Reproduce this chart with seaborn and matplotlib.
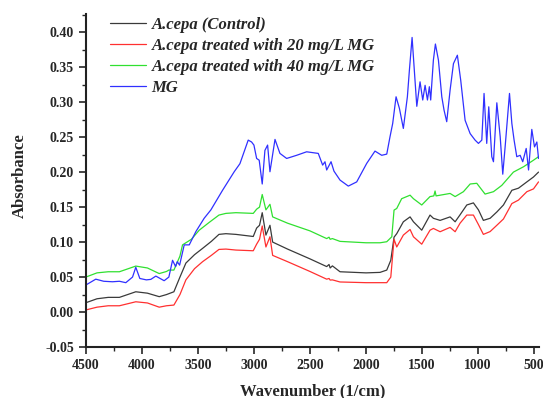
import pandas as pd
import matplotlib.pyplot as plt
import seaborn as sns
from matplotlib.ticker import MultipleLocator

# wavenumber grid shared by the two lower A.cepa spectra
wn_cepa = [4500, 4400, 4300, 4200, 4054, 3950, 3845, 3780, 3714, 3660, 3607, 3530,
           3458, 3380, 3312, 3250, 3161, 3006, 2976, 2950, 2926, 2893, 2857, 2833,
           2700, 2500, 2351, 2330, 2320, 2300, 2232, 2000, 1875, 1815, 1779, 1750,
           1726, 1667, 1607, 1577, 1503, 1429, 1399, 1339, 1250, 1205, 1161, 1101,
           1042, 997, 953, 893, 833, 774, 699, 640, 565, 506, 461]

abs_control = [0.0133, 0.019, 0.021, 0.021, 0.029, 0.027, 0.022, 0.025, 0.029, 0.050,
               0.070, 0.082, 0.091, 0.101, 0.111, 0.112, 0.111, 0.108, 0.120, 0.124,
               0.142, 0.110, 0.124, 0.100, 0.090, 0.076, 0.065, 0.068, 0.063, 0.066,
               0.0576, 0.056, 0.0567, 0.060, 0.074, 0.107, 0.112, 0.129, 0.136, 0.129,
               0.117, 0.1386, 0.134, 0.131, 0.136, 0.129, 0.139, 0.153, 0.156, 0.146,
               0.131, 0.134, 0.143, 0.153, 0.174, 0.177, 0.186, 0.193, 0.200]

abs_20 = [0.003, 0.007, 0.009, 0.009, 0.0147, 0.013, 0.007, 0.009, 0.010, 0.025,
          0.046, 0.062, 0.072, 0.081, 0.0895, 0.090, 0.0886, 0.0876, 0.097, 0.104,
          0.123, 0.093, 0.1076, 0.081, 0.072, 0.058, 0.047, 0.048, 0.0457, 0.046,
          0.043, 0.042, 0.042, 0.042, 0.050, 0.104, 0.093, 0.110, 0.118, 0.1076,
          0.097, 0.117, 0.1195, 0.1148, 0.121, 0.1148, 0.127, 0.1386, 0.1386, 0.125,
          0.111, 0.115, 0.124, 0.133, 0.155, 0.160, 0.172, 0.176, 0.186]

wn_40 = [4500, 4400, 4300, 4200, 4054, 3950, 3845, 3780, 3759, 3714, 3660, 3637,
         3558, 3488, 3400, 3312, 3250, 3161, 3006, 2976, 2950, 2926, 2893, 2857,
         2833, 2700, 2500, 2351, 2330, 2320, 2300, 2232, 2000, 1875, 1815, 1770,
         1750, 1726, 1682, 1607, 1577, 1503, 1429, 1395, 1384, 1375, 1339, 1250,
         1205, 1131, 1071, 1012, 938, 863, 789, 685, 595, 506, 461]
abs_40 = [0.050, 0.056, 0.0576, 0.0576, 0.0657, 0.063, 0.055, 0.058, 0.060, 0.060,
          0.080, 0.096, 0.104, 0.117, 0.128, 0.1386, 0.141, 0.142, 0.141, 0.147,
          0.150, 0.168, 0.146, 0.154, 0.136, 0.127, 0.116, 0.105, 0.107, 0.104,
          0.105, 0.101, 0.099, 0.099, 0.1005, 0.1076, 0.1457, 0.148, 0.162, 0.167,
          0.162, 0.153, 0.165, 0.166, 0.173, 0.166, 0.167, 0.1695, 0.165, 0.172,
          0.183, 0.184, 0.1686, 0.172, 0.181, 0.200, 0.2076, 0.217, 0.222]

wn_mg = [4500, 4411, 4340, 4262, 4200, 4143, 4083, 4054, 4018, 3960, 3920, 3875,
         3801, 3759, 3726, 3699, 3684, 3663, 3622, 3577, 3518, 3444, 3384, 3280,
         3176, 3125, 3051, 3021, 3000, 2976, 2953, 2926, 2902, 2878, 2857, 2812,
         2768, 2708, 2619, 2530, 2426, 2387, 2366, 2351, 2312, 2286, 2232, 2158,
         2083, 1994, 1920, 1860, 1815, 1786, 1762, 1732, 1702, 1667, 1631, 1613,
         1589, 1571, 1547, 1518, 1494, 1473, 1452, 1435, 1423, 1399, 1381, 1354,
         1324, 1304, 1280, 1250, 1220, 1185, 1155, 1116, 1071, 1027, 997, 967,
         947, 923, 905, 878, 863, 833, 803, 780, 759, 720, 699, 679, 655, 625,
         602, 571, 550, 521, 497, 476, 461]
abs_mg = [0.0386, 0.047, 0.044, 0.0433, 0.044, 0.042, 0.050, 0.064, 0.048, 0.046,
          0.0467, 0.0514, 0.0448, 0.050, 0.074, 0.065, 0.072, 0.067, 0.096, 0.096,
          0.115, 0.134, 0.146, 0.174, 0.2005, 0.212, 0.2457, 0.243, 0.2386, 0.2195,
          0.217, 0.183, 0.231, 0.2386, 0.2005, 0.2467, 0.2267, 0.2195, 0.224, 0.229,
          0.2267, 0.210, 0.2148, 0.203, 0.2148, 0.2014, 0.1886, 0.180, 0.186, 0.2124,
          0.230, 0.224, 0.2257, 0.2505, 0.2695, 0.3076, 0.291, 0.2624, 0.3076, 0.3457,
          0.3924, 0.350, 0.294, 0.329, 0.303, 0.324, 0.303, 0.322, 0.303, 0.360,
          0.383, 0.360, 0.3076, 0.2886, 0.272, 0.317, 0.355, 0.367, 0.331, 0.274,
          0.255, 0.2457, 0.241, 0.2457, 0.3124, 0.241, 0.2933, 0.222, 0.2148, 0.299,
          0.2505, 0.197, 0.236, 0.3124, 0.2695, 0.2457, 0.222, 0.224, 0.2148, 0.2338,
          0.203, 0.261, 0.236, 0.243, 0.2195]

labels = ['A.cepa (Control)', 'A.cepa treated with 20 mg/L MG',
          'A.cepa treated with 40 mg/L MG', 'MG']
colors = ['#3a3a3a', '#ff3030', '#30e030', '#3030ff']

df = pd.concat([
    pd.DataFrame({'wn': wn_cepa, 'abs': abs_control, 'sample': labels[0]}),
    pd.DataFrame({'wn': wn_cepa, 'abs': abs_20, 'sample': labels[1]}),
    pd.DataFrame({'wn': wn_40, 'abs': abs_40, 'sample': labels[2]}),
    pd.DataFrame({'wn': wn_mg, 'abs': abs_mg, 'sample': labels[3]}),
])

sns.set_style('ticks')
plt.rcParams['font.family'] = ['Liberation Serif', 'DejaVu Serif']
plt.rcParams['font.weight'] = 'bold'

fig = plt.figure(figsize=(5.43, 3.98), dpi=100)
ax = fig.add_axes([0.158, 0.128, 0.835, 0.837])

sns.lineplot(data=df, x='wn', y='abs', hue='sample', hue_order=labels,
             palette=colors, estimator=None, sort=False, linewidth=0.9, ax=ax)

ax.set_xlim(4500, 455)
ax.set_ylim(-0.05, 0.426)
ax.xaxis.set_major_locator(MultipleLocator(500))
ax.xaxis.set_minor_locator(MultipleLocator(250))
ax.yaxis.set_major_locator(MultipleLocator(0.05))
ax.yaxis.set_minor_locator(MultipleLocator(0.025))
ax.yaxis.set_major_formatter(plt.FormatStrFormatter('%.2f'))
ax.tick_params(which='major', length=5, width=1.2, labelsize=10, direction='out')
ax.tick_params(which='minor', length=3, width=1.0, direction='out')
for lab in ax.get_xticklabels() + ax.get_yticklabels():
    lab.set_fontweight('bold')
for s in ['left', 'bottom']:
    ax.spines[s].set_linewidth(1.5)
    ax.spines[s].set_color('#222222')
sns.despine(ax=ax)

ax.set_xlabel('Wavenumber (1/cm)', fontsize=12, fontweight='bold', labelpad=8)
ax.set_ylabel('Absorbance', fontsize=12, fontweight='bold')
ax.yaxis.set_label_coords(-0.128, 0.515)

ax.legend(loc='upper left', bbox_to_anchor=(0.053, 0.992), frameon=False,
          borderpad=0, borderaxespad=0,
          handlelength=2.2, handletextpad=0.3, labelspacing=0.3,
          prop={'family': 'Liberation Serif', 'weight': 'bold',
                'style': 'italic', 'size': 12})

plt.savefig('out.png', dpi=100)
